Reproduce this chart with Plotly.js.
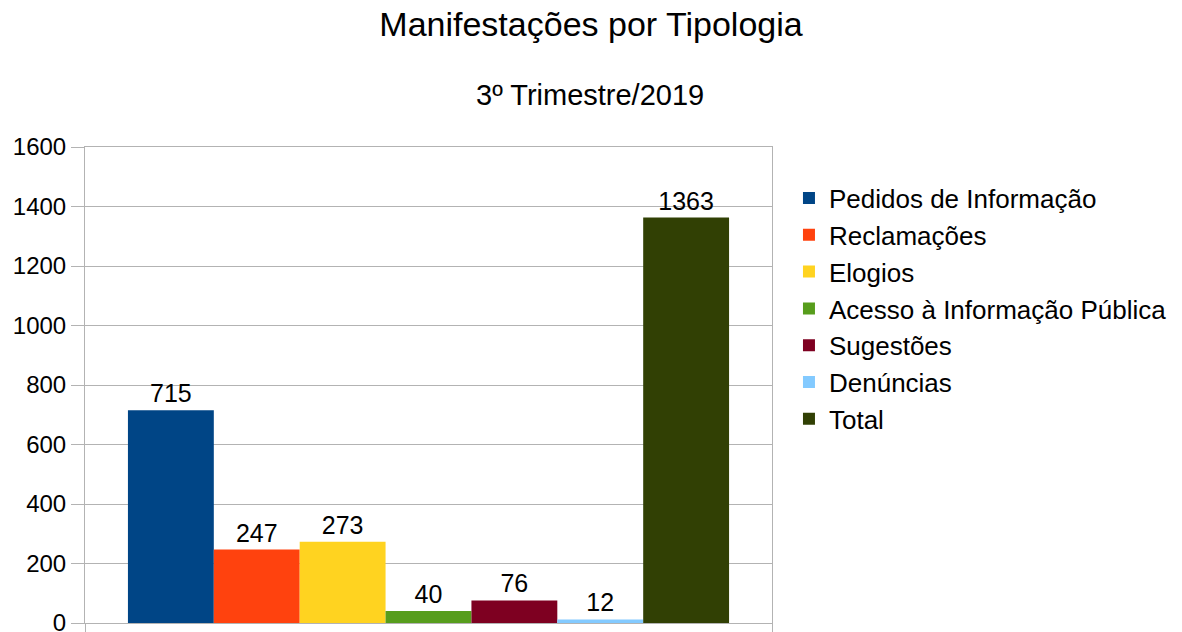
<!DOCTYPE html>
<html lang="pt">
<head>
    <meta charset="UTF-8">
    <script src="https://cdn.plot.ly/plotly-3.0.1.min.js"></script>
    <style>
        html, body, #plot {
            width: 1182px;
            height: 632px;
            margin: 0;
            padding: 0;
            overflow: hidden;
            background: #ffffff;
        }
    </style>
</head>
<body>
<div id="plot"></div>
<script>
    // Data (3º trimestre/2019)
    const categoria = ['3º Trimestre/2019'];
    const series = ['Pedidos de Informação', 'Reclamações', 'Elogios', 'Acesso à Informação Pública', 'Sugestões', 'Denúncias', 'Total'];
    const valores = [715, 247, 273, 40, 76, 12, 1363];
    const cores = ['#004586', '#ff420e', '#ffd320', '#579d1c', '#7e0021', '#83caff', '#314004'];

    const fonte = 'Liberation Sans, Arial, sans-serif';
    const grade = '#b3b3b3';

    const traces = series.map((nome, i) => ({
        type: 'bar',
        name: nome,
        x: categoria,
        y: [valores[i]],
        text: [String(valores[i])],
        textposition: 'outside',
        textfont: {family: fonte, size: 25, color: '#000000'},
        cliponaxis: false,
        marker: {color: cores[i], line: {width: 0}},
        legendgroup: 'g' + i,
        hoverinfo: 'name+y'
    }));

    const layout = {
        width: 1182,
        height: 632,
        margin: {l: 85, r: 410, t: 147, b: 9, pad: 0},
        paper_bgcolor: '#ffffff',
        plot_bgcolor: '#ffffff',
        font: {family: fonte, color: '#000000'},
        title: {
            text: 'Manifestações por Tipologia',
            font: {family: fonte, size: 34, color: '#000000'},
            x: 0.5,
            xref: 'container',
            xanchor: 'center',
            y: 0.962,
            yref: 'container',
            yanchor: 'middle'
        },
        annotations: [{
            // subtitle, centred on the whole picture
            text: '3º Trimestre/2019',
            xref: 'paper', yref: 'paper',
            x: 0.735, y: 1.109,
            xanchor: 'center', yanchor: 'middle',
            showarrow: false,
            font: {family: fonte, size: 29, color: '#000000'}
        }],
        barmode: 'group',
        bargap: 0.125,
        bargroupgap: 0,
        xaxis: {
            showticklabels: false,
            showgrid: false,
            showline: true,
            linecolor: grade,
            linewidth: 1,
            mirror: true,
            ticks: 'outside',
            tickson: 'boundaries',
            ticklen: 10,
            tickcolor: grade,
            fixedrange: true
        },
        yaxis: {
            range: [0, 1600],
            dtick: 200,
            showgrid: true,
            gridcolor: grade,
            showline: true,
            linecolor: grade,
            linewidth: 1,
            mirror: true,
            zeroline: false,
            ticks: 'outside',
            ticklen: 13,
            tickcolor: grade,
            ticklabeloverflow: 'allow',
            tickfont: {family: fonte, size: 24, color: '#000000'},
            fixedrange: true
        },
        showlegend: true,
        legend: {
            x: 1.0247,
            y: 0.942,
            xanchor: 'left',
            yanchor: 'top',
            xref: 'paper',
            yref: 'paper',
            traceorder: 'normal',
            tracegroupgap: 5.5,
            bgcolor: 'rgba(0,0,0,0)',
            font: {family: fonte, size: 26, color: '#000000'}
        }
    };

    const config = {
        displayModeBar: false,
        staticPlot: true
    };

    Plotly.newPlot('plot', traces, layout, config);
</script>
</body>
</html>
